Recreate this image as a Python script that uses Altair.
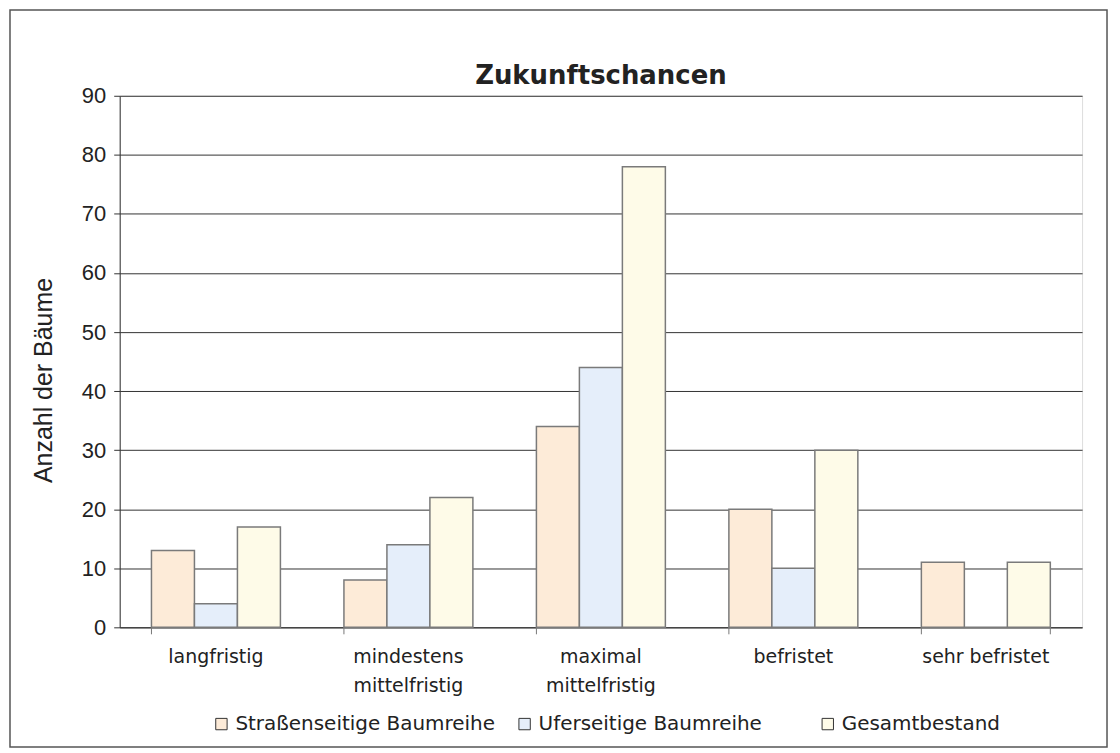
import altair as alt
import pandas as pd

categories = ["langfristig", "mindestens mittelfristig", "maximal mittelfristig", "befristet", "sehr befristet"]
series = ["Straßenseitige Baumreihe", "Uferseitige Baumreihe", "Gesamtbestand"]
strassen = [13, 8, 34, 20, 11]
ufer = [4, 14, 44, 10, 0]
gesamt = [17, 22, 78, 30, 11]
colors = ["#fdebd8", "#e5eefa", "#fefbe8"]
y_ticks = [0, 10, 20, 30, 40, 50, 60, 70, 80, 90]
title_text = "Zukunftschancen"

rows = []
for i, c in enumerate(categories):
    for s, vals in zip(series, [strassen, ufer, gesamt]):
        rows.append({"Kategorie": c, "Serie": s, "Anzahl": vals[i]})
df = pd.DataFrame(rows)

W, H = 965, 533
FONT = "DejaVu Sans"
NUMFONT = "Liberation Sans"

x_enc = alt.X(
    "Kategorie:N", sort=categories, title=None,
    scale=alt.Scale(paddingInner=0.33, paddingOuter=0.165),
    axis=alt.Axis(
        labelAngle=0, labelFontSize=19, labelColor="#222", labelFont=FONT,
        labelPadding=20, ticks=False, domain=True, domainColor="#333",
        labelExpr="indexof(datum.value, 'mittelfristig') > 0 ? split(datum.value, ' ') : datum.value",
        labelLineHeight=29,
    ),
)

bars = alt.Chart(df).mark_bar(stroke="#7a7a7a", strokeWidth=1.5).encode(
    x=x_enc,
    xOffset=alt.XOffset("Serie:N", sort=series),
    y=alt.Y(
        "Anzahl:Q", title="Anzahl der Bäume",
        scale=alt.Scale(domain=[0, 90], nice=False),
        axis=alt.Axis(
            values=y_ticks, labelFontSize=22, labelColor="#222", labelFont=NUMFONT,
            grid=True, gridColor="#333", gridWidth=1,
            domainColor="#333", tickColor="#333", tickSize=6, labelPadding=8,
            titleFontSize=25, titleFont=NUMFONT, titleFontWeight="normal", titleColor="#222",
            titleAngle=-90, titleX=-76, titleY=285, titleAlign="center", titleBaseline="middle",
        ),
    ),
    fill=alt.Fill(
        "Serie:N", sort=series,
        scale=alt.Scale(domain=series, range=colors),
        legend=alt.Legend(
            title=None, orient="none", direction="horizontal", legendX=92, legendY=620,
            symbolType="square", symbolSize=130, symbolStrokeColor="#333", symbolStrokeWidth=1,
            labelFontSize=20, labelFont=FONT, labelColor="#222", columnPadding=19, labelOffset=4,
            labelLimit=500, gridAlign="all",
        ),
    ),
)

tick_df = pd.DataFrame({"Kategorie": categories})
ticks_left = alt.Chart(tick_df).mark_rule(color="#777").encode(
    x=alt.X("Kategorie:N", sort=categories, bandPosition=0),
    y=alt.value(H), y2=alt.value(H + 7),
)
ticks_right = alt.Chart(pd.DataFrame({"Kategorie": [categories[-1]]})).mark_rule(color="#777").encode(
    x=alt.X("Kategorie:N", sort=categories, bandPosition=1),
    y=alt.value(H), y2=alt.value(H + 7),
)

title = alt.Chart(pd.DataFrame({"t": [title_text]})).mark_text(
    fontSize=26, font=FONT, fontWeight="bold", color="#222", align="center", baseline="middle"
).encode(x=alt.value(W / 2), y=alt.value(-20), text="t:N")

frame = alt.Chart(pd.DataFrame({"a": [0]})).mark_rect(fill=None, stroke="#555", strokeWidth=1.5, clip=False).encode(
    x=alt.value(-110), x2=alt.value(W + 25), y=alt.value(-86), y2=alt.value(H + 120),
)

chart = alt.layer(bars, ticks_left, ticks_right, title, frame).properties(
    width=W, height=H,
    autosize=alt.AutoSizeParams(type="none"),
    padding={"left": 112, "top": 87, "right": 30, "bottom": 125},
).configure_view(stroke=None).configure(background="white")

chart.save("out.html", embed_options={"renderer": "svg", "actions": False})
